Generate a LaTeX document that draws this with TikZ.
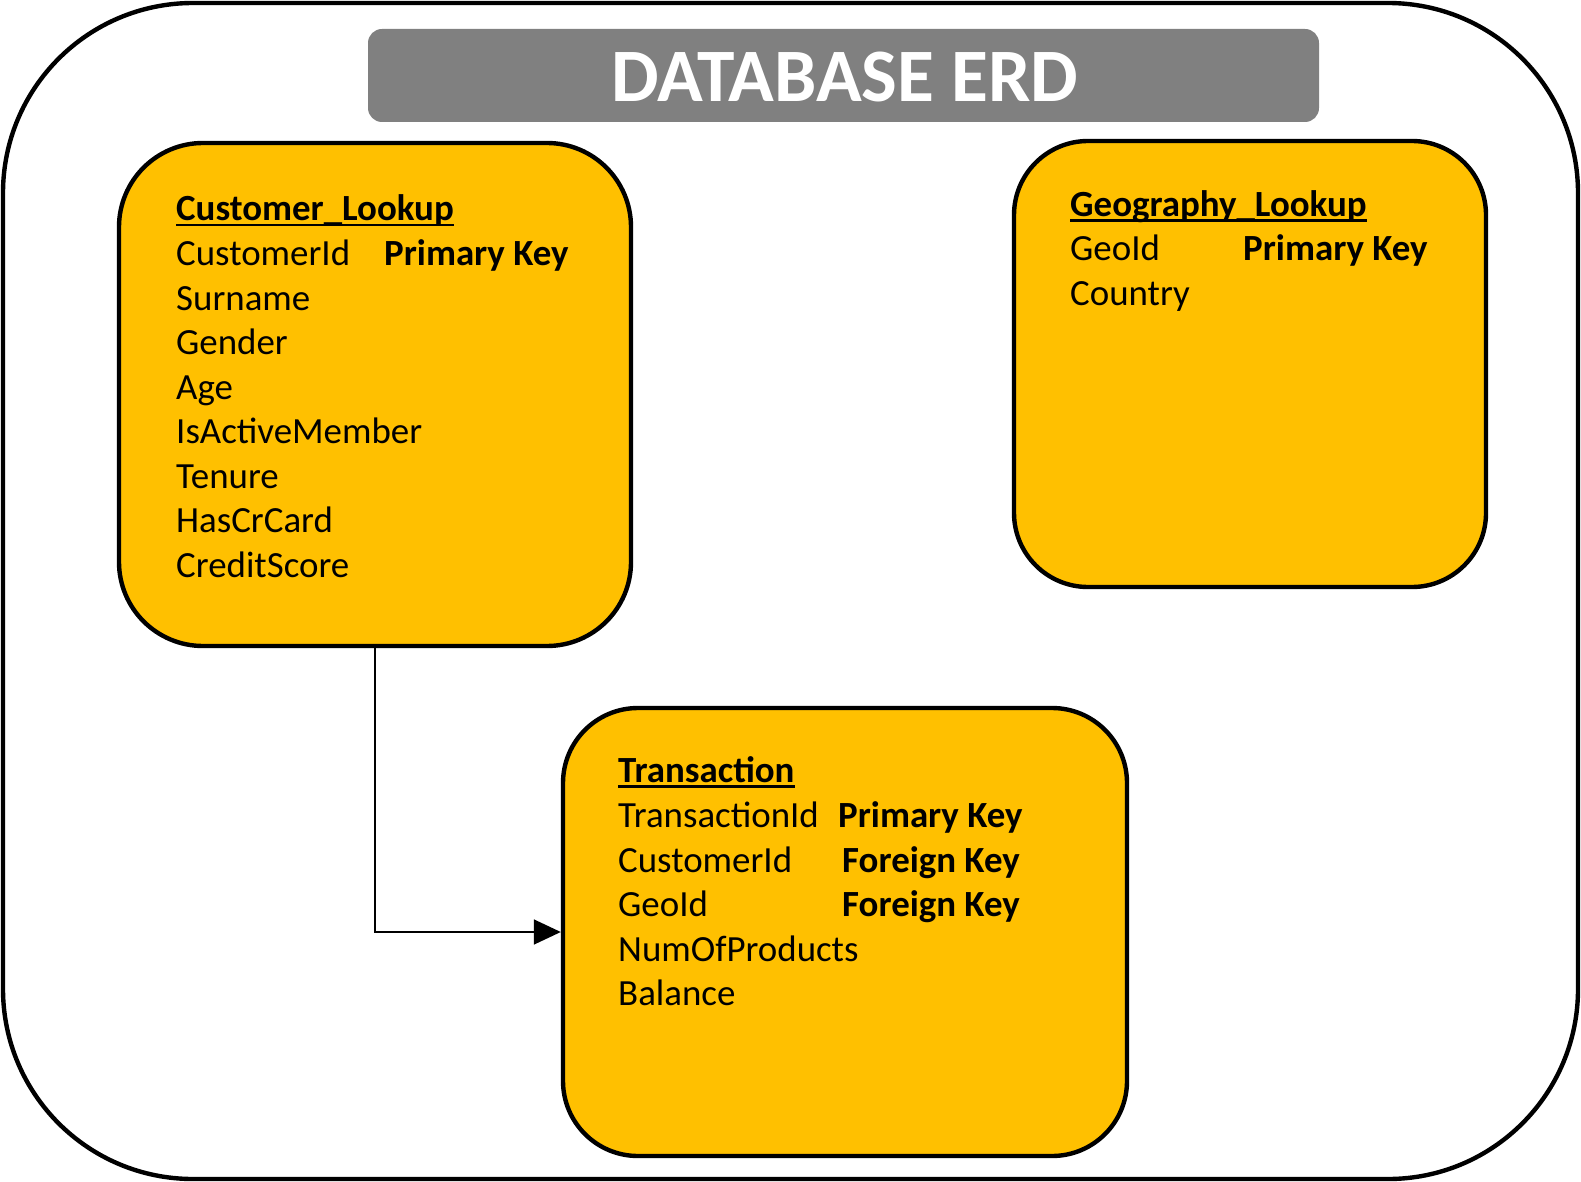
\documentclass[tikz,border=0pt]{standalone}
\usepackage{fontspec}
\setmainfont{Carlito}
\usetikzlibrary{arrows.meta}
\definecolor{erdgold}{HTML}{FFC000}
\definecolor{erdgray}{HTML}{808080}
\newcommand\erdul[1]{\setbox0\hbox{#1}\rlap{\rule[-5.5pt]{\wd0}{2.6pt}}\box0}
\tikzset{
  tablebox/.style={rectangle, draw=black, line width=4.4pt, fill=erdgold, inner sep=0pt, rounded corners=#1},
  field/.style={anchor=base west, inner sep=0pt, font=\fontsize{36.9}{44}\selectfont},
  keyfield/.style={field, font=\bfseries\fontsize{36.9}{44}\selectfont},
  conn/.style={line width=1.7pt, -{Triangle[length=27pt,width=25pt]}}
}
\begin{document}
\begin{tikzpicture}[x=1pt,y=-1pt]
\useasboundingbox (0,0) rectangle (1581,1182);
% outer frame
\draw[line width=4.4pt, rounded corners=190pt] (3,3) rectangle (1578,1179);
% title bar
\node[rectangle, fill=erdgray, rounded corners=14pt, minimum width=951pt, minimum height=93pt, inner sep=0pt] (titlebar) at (843.5,75.5) {};
\node[anchor=base, inner sep=0pt, text=white, font=\bfseries\fontsize{75.5}{80}\selectfont] (titletext) at (845,102) {DATABASE ERD};
% tables
\node[tablebox=84pt, minimum width=512pt, minimum height=503pt] (cust) at (375,394.5) {};
\node[tablebox=74pt, minimum width=472pt, minimum height=446pt] (geo) at (1250,364) {};
\node[tablebox=75pt, minimum width=564pt, minimum height=448pt] (trans) at (845,932) {};
% Customer_Lookup
\node[keyfield] (c0) at (176,221) {\erdul{Customer\_Lookup}};
\node[field] (c1) at (176,265.5) {CustomerId};
\node[keyfield] (c1k) at (384,265.5) {Primary Key};
\node[field] (c2) at (176,310) {Surname};
\node[field] (c3) at (176,354.5) {Gender};
\node[field] (c4) at (176,399) {Age};
\node[field] (c5) at (176,443.5) {IsActiveMember};
\node[field] (c6) at (176,488) {Tenure};
\node[field] (c7) at (176,532.5) {HasCrCard};
\node[field] (c8) at (176,577) {CreditScore};
% Geography_Lookup
\node[keyfield] (g0) at (1070,216.5) {\erdul{Geography\_Lookup}};
\node[field] (g1) at (1070,261) {GeoId};
\node[keyfield] (g1k) at (1243,261) {Primary Key};
\node[field] (g2) at (1070,305.5) {Country};
% Transaction
\node[keyfield] (t0) at (618,782.5) {\erdul{Transaction}};
\node[field] (t1) at (618,827.5) {TransactionId};
\node[keyfield] (t1k) at (838,827.5) {Primary Key};
\node[field] (t2) at (618,872) {CustomerId};
\node[keyfield] (t2k) at (842,872) {Foreign Key};
\node[field] (t3) at (618,916.5) {GeoId};
\node[keyfield] (t3k) at (842,916.5) {Foreign Key};
\node[field] (t4) at (618,961) {NumOfProducts};
\node[field] (t5) at (618,1005.5) {Balance};
% connector
\draw[conn] (cust.south) |- (trans.west);
\end{tikzpicture}
\end{document}
